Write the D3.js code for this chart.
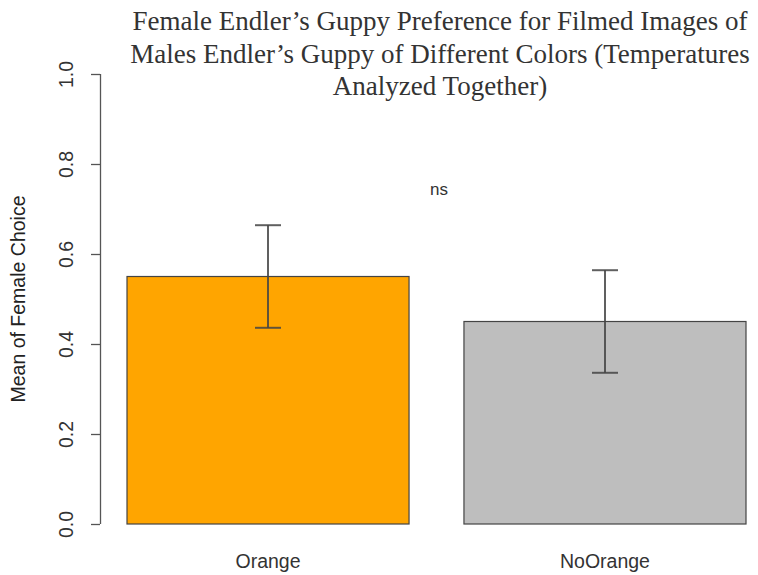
<!DOCTYPE html>
<html>
<head>
<meta charset="utf-8">
<script src="https://cdn.jsdelivr.net/npm/d3@7"></script>
<style>
  html, body { margin: 0; padding: 0; background: #fff; }
  svg { display: block; }
</style>
</head>
<body>
<svg id="chart" width="758" height="575"></svg>
<script>
// Mean female choice by male colour, with standard error
const categories = ["Orange", "NoOrange"];
const means = [0.55, 0.45];
const errors = [0.114, 0.114];
const barColors = ["#FFA500", "#BEBEBE"];
const yTicks = [0.0, 0.2, 0.4, 0.6, 0.8, 1.0];
const titleLines = [
  "Female Endler\u2019s Guppy Preference for Filmed Images of",
  "Males Endler\u2019s Guppy of Different Colors (Temperatures",
  "Analyzed Together)"
];

const svg = d3.select("#chart");
const sans = "'Liberation Sans', Arial, Helvetica, sans-serif";

const y = d3.scaleLinear().domain([0, 1]).range([524, 74]);
const x = d3.scaleBand().domain(categories)
  .range([127, 746]).paddingInner(0.163).paddingOuter(0);

// y axis
const yAxis = d3.axisLeft(y).tickValues(yTicks).tickFormat(d3.format(".1f"))
  .tickSize(9).tickSizeOuter(0);
const gy = svg.append("g").attr("transform", "translate(100,0)").call(yAxis);
gy.select(".domain").attr("stroke", "#555").attr("stroke-width", 1.3)
  .attr("d", `M0.5,${y(0)}V${y(1)}`);
gy.selectAll(".tick line").attr("stroke", "#555").attr("stroke-width", 1.3);
gy.selectAll(".tick text").remove();
gy.selectAll(".tick").append("text")
  .attr("transform", "translate(-33.5,0) rotate(-90)")
  .attr("text-anchor", "middle")
  .attr("dy", "0.35em")
  .attr("fill", "#333")
  .style("font-family", sans)
  .style("font-size", "19.5px")
  .text(d => d3.format(".1f")(d));

// bars
svg.selectAll("rect.bar").data(categories).join("rect")
  .attr("class", "bar")
  .attr("x", d => x(d))
  .attr("width", x.bandwidth())
  .attr("y", (d, i) => y(means[i]))
  .attr("height", (d, i) => y(0) - y(means[i]))
  .attr("fill", (d, i) => barColors[i])
  .attr("stroke", "#444")
  .attr("stroke-width", 1.2);

// error bars
const cx = d => x(d) + x.bandwidth() / 2;
const eb = svg.append("g").attr("stroke", "#444").attr("stroke-width", 2).attr("stroke-opacity", 0.85);
categories.forEach((c, i) => {
  const lo = y(means[i] - errors[i]), hi = y(means[i] + errors[i]);
  eb.append("line").attr("x1", cx(c)).attr("x2", cx(c)).attr("y1", hi).attr("y2", lo);
  eb.append("line").attr("x1", cx(c) - 13).attr("x2", cx(c) + 13).attr("y1", hi).attr("y2", hi);
  eb.append("line").attr("x1", cx(c) - 13).attr("x2", cx(c) + 13).attr("y1", lo).attr("y2", lo);
});

// category labels
svg.selectAll("text.cat").data(categories).join("text")
  .attr("class", "cat")
  .attr("x", d => cx(d))
  .attr("y", 568)
  .attr("text-anchor", "middle")
  .attr("fill", "#333")
  .style("font-family", sans)
  .style("font-size", "19.5px")
  .text(d => d);

// significance marker
svg.append("text")
  .attr("x", 439).attr("y", 195)
  .attr("text-anchor", "middle")
  .attr("fill", "#333")
  .style("font-family", sans)
  .style("font-size", "17px")
  .text("ns");

// y axis title
svg.append("text")
  .attr("transform", "translate(25,299) rotate(-90)")
  .attr("text-anchor", "middle")
  .attr("fill", "#222")
  .style("font-family", sans)
  .style("font-size", "19.5px")
  .text("Mean of Female Choice");

// chart title
svg.selectAll("text.title").data(titleLines).join("text")
  .attr("class", "title")
  .attr("x", 440)
  .attr("y", (d, i) => 30 + i * 32.5)
  .attr("text-anchor", "middle")
  .attr("fill", "#333")
  .style("font-family", "'Liberation Serif', 'Times New Roman', serif")
  .style("font-size", "27px")
  .text(d => d);
</script>
</body>
</html>
